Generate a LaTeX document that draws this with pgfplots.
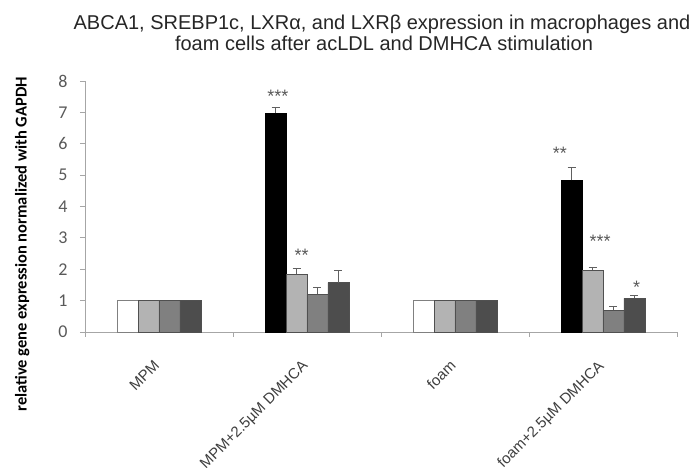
\documentclass[border=0pt]{standalone}
\usepackage{fontspec}
\setmainfont{Liberation Sans}
\newfontfamily\calibri{Carlito}
\usepackage{pgfplots}
\pgfplotsset{compat=1.18}
\definecolor{lg}{HTML}{B3B3B3}
\definecolor{mg}{HTML}{808080}
\definecolor{dg}{HTML}{4D4D4D}
\definecolor{axgray}{HTML}{A6A6A6}
\definecolor{txtgray}{HTML}{595959}
\definecolor{edge}{HTML}{505050}
\definecolor{errc}{HTML}{606060}
\pgfplotsset{
  errstyle/.style={error bars/.cd, y dir=plus, y explicit,
    error bar style={draw=errc, line width=0.8pt},
    error mark options={rotate=90, mark size=4pt, line width=0.8pt, draw=errc}},
  mybar/.style={ybar, bar width=21pt, bar shift=0pt, line width=0.7pt},
}
\begin{document}
\begin{tikzpicture}[x=1pt,y=1pt]
\begin{axis}[
 at={(0,0)}, anchor=south west,
 scale only axis, width=592pt, height=251pt,
 xmin=-0.5, xmax=3.5, ymin=0, ymax=8,
 ytick={0,1,...,8},
 xtick={0,1,2,3},
 xticklabels={MPM, MPM+2.5µM DMHCA, foam, foam+2.5µM DMHCA},
 minor xtick={-0.5,0.5,1.5,2.5,3.5},
 axis x line=bottom, axis y line=left,
 axis line style={-, draw=axgray, line width=0.8pt},
 major x tick style={draw=none},
 minor x tick style={draw=axgray, line width=0.8pt},
 minor tick length=5pt,
 y tick style={draw=axgray, line width=0.8pt},
 major tick length=5pt,
 tick align=outside,
 /pgf/number format/assume math mode=true,
 y tick label style={font=\calibri\fontsize{18}{18}\selectfont, text=txtgray, xshift=-9pt},
 x tick label style={font=\fontsize{15}{15}\selectfont, text=txtgray!70!black, rotate=45, anchor=north east, inner sep=0pt, xshift=-19.8pt, yshift=-11.3pt},
 ylabel={relative gene expression normalized with GAPDH},
 ylabel style={font=\calibri\bfseries\fontsize{16.5}{16.5}\selectfont, at={(axis description cs:-0.088,0.35)}, anchor=south},
 clip=false,
]
% ABCA1
\addplot[mybar, fill=white, draw=mg] coordinates {(-0.2128,1) (1.7872,1)};
\addplot[mybar, fill=black, draw=black, errstyle] coordinates {(0.7872,6.97) +- (0,0.2) (2.7872,4.83) +- (0,0.42)};
% SREBP1c
\addplot[mybar, fill=lg, draw=edge] coordinates {(-0.0709,1) (1.9291,1)};
\addplot[mybar, fill=lg, draw=edge, errstyle] coordinates {(0.9291,1.84) +- (0,0.19) (2.9291,1.97) +- (0,0.09)};
% LXRa
\addplot[mybar, fill=mg, draw=edge] coordinates {(0.0709,1) (2.0709,1)};
\addplot[mybar, fill=mg, draw=edge, errstyle] coordinates {(1.0709,1.2) +- (0,0.22) (3.0709,0.69) +- (0,0.11)};
% LXRb
\addplot[mybar, fill=dg, draw=edge] coordinates {(0.2128,1) (2.2128,1)};
\addplot[mybar, fill=dg, draw=edge, errstyle] coordinates {(1.2128,1.57) +- (0,0.39) (3.2128,1.07) +- (0,0.1)};
% significance
\begin{scope}[every node/.style={font=\fontsize{18}{18}\selectfont, text=txtgray, inner sep=0pt}]
\node at (axis cs:0.804,7.50) {***};
\node at (axis cs:0.963,2.43) {**};
\node at (axis cs:2.709,5.70) {**};
\node at (axis cs:2.980,2.89) {***};
\node at (axis cs:3.228,1.42) {*};
\end{scope}
\end{axis}
\node[font=\fontsize{20}{20}\selectfont, anchor=base, text=black!85] at (297,302) {ABCA1, SREBP1c, LXRα, and LXRβ expression in macrophages and};
\node[font=\fontsize{20}{20}\selectfont, anchor=base, text=black!85] at (299,281) {foam cells after acLDL and DMHCA stimulation};
\pgfresetboundingbox
\useasboundingbox (-85,-136) rectangle (612,332);
\end{tikzpicture}
\end{document}
